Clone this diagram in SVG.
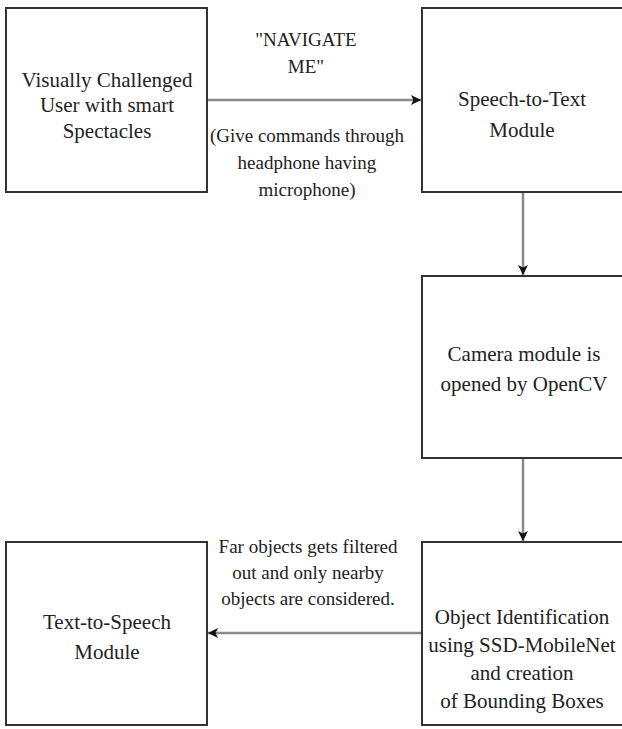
<svg xmlns="http://www.w3.org/2000/svg" width="622" height="729" viewBox="0 0 622 729">
  <style>
    .box { fill: #ffffff; stroke: #333333; stroke-width: 2; }
    .node { font-family: "Liberation Serif", "Times New Roman", serif; font-size: 21px; fill: #222222; text-anchor: middle; }
    .lbl { font-family: "Liberation Serif", "Times New Roman", serif; font-size: 19px; fill: #222222; text-anchor: middle; }
    .wire { stroke: #8a8a8a; stroke-width: 2.5; fill: none; }
  </style>
  <defs>
    <marker id="head" viewBox="0 0 10 10" refX="10" refY="5" markerWidth="10" markerHeight="10" markerUnits="userSpaceOnUse" orient="auto">
      <path d="M0,0 L10,5 L0,10 L2.5,5 Z" fill="#111111"/>
    </marker>
  </defs>
  <rect x="0" y="0" width="622" height="729" fill="#ffffff"/>

  <!-- connectors and their labels -->
  <g id="connectors">
    <line class="wire" x1="207" y1="100" x2="421" y2="100" marker-end="url(#head)"/>
    <line class="wire" x1="523" y1="192" x2="523" y2="275" marker-end="url(#head)"/>
    <line class="wire" x1="523" y1="458" x2="523" y2="541" marker-end="url(#head)"/>
    <line class="wire" x1="422" y1="633" x2="208" y2="633" marker-end="url(#head)"/>
    <g id="label-navigate">
      <text class="lbl" x="306" y="46">"NAVIGATE</text>
      <text class="lbl" x="306" y="73">ME"</text>
      <text class="lbl" x="307" y="142">(Give commands through</text>
      <text class="lbl" x="307" y="169">headphone having</text>
      <text class="lbl" x="307" y="196">microphone)</text>
    </g>
    <g id="label-filter">
      <text class="lbl" x="308" y="553">Far objects gets filtered</text>
      <text class="lbl" x="308" y="579">out and only nearby</text>
      <text class="lbl" x="308" y="605">objects are considered.</text>
    </g>
  </g>

  <g id="user">
    <rect class="box" x="6" y="8" width="201" height="184"/>
    <text class="node" x="107" y="87">Visually Challenged</text>
    <text class="node" x="107" y="112">User with smart</text>
    <text class="node" x="107" y="138">Spectacles</text>
  </g>

  <g id="speech-to-text">
    <rect class="box" x="422" y="8" width="210" height="184"/>
    <text class="node" x="522" y="106">Speech-to-Text</text>
    <text class="node" x="522" y="137">Module</text>
  </g>

  <g id="camera">
    <rect class="box" x="422" y="276" width="210" height="182"/>
    <text class="node" x="524" y="361">Camera module is</text>
    <text class="node" x="524" y="391">opened by OpenCV</text>
  </g>

  <g id="detector">
    <rect class="box" x="422" y="542" width="210" height="183"/>
    <text class="node" x="522" y="624">Object Identification</text>
    <text class="node" x="522" y="652">using SSD-MobileNet</text>
    <text class="node" x="522" y="680">and creation</text>
    <text class="node" x="522" y="708">of Bounding Boxes</text>
  </g>

  <g id="text-to-speech">
    <rect class="box" x="6" y="542" width="201" height="183"/>
    <text class="node" x="107" y="629">Text-to-Speech</text>
    <text class="node" x="107" y="659">Module</text>
  </g>
</svg>
